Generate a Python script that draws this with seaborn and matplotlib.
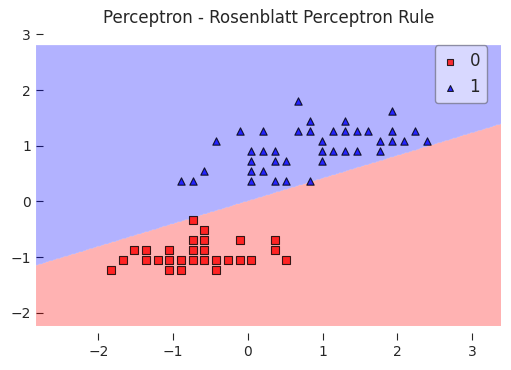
import numpy as np
import pandas as pd
import seaborn as sns
import matplotlib.pyplot as plt
from matplotlib.colors import ListedColormap

# standardized features, class 0 (squares)
x0 = [-0.736, -0.589,
      -0.736, -0.589, -0.107, 0.361,
      -1.526, -1.365, -1.058, -0.736, -0.589, 0.361,
      -1.673, -1.365, -1.205, -1.058, -0.897, -0.736, -0.589, -0.428, -0.268, -0.107, 0.040, 0.508,
      -1.834, -1.058, -0.897, -0.428]
y0 = [-0.337, -0.517,
      -0.696, -0.696, -0.696, -0.696,
      -0.875, -0.875, -0.875, -0.875, -0.875, -0.875,
      -1.055, -1.055, -1.055, -1.055, -1.055, -1.055, -1.055, -1.055, -1.055, -1.055, -1.055, -1.055,
      -1.234, -1.234, -1.234, -1.234]

# class 1 (triangles)
x1 = [0.669, 1.928, 0.830, 1.299,
      -0.107, 0.201, 0.669, 0.830, 1.138, 1.299, 1.459, 1.606, 1.928, 2.236,
      -0.428, 0.991, 1.767, 1.928, 2.088, 2.396,
      0.040, 0.201, 0.361, 0.991, 1.138, 1.299, 1.459, 1.767,
      0.040, 0.361, 0.509, 0.991,
      -0.589, 0.040, 0.201,
      -0.897, -0.736, 0.040, 0.361, 0.509, 0.830]
y1 = [1.808, 1.629, 1.449, 1.449,
      1.270, 1.270, 1.270, 1.270, 1.270, 1.270, 1.270, 1.270, 1.270, 1.270,
      1.091, 1.091, 1.091, 1.091, 1.091, 1.091,
      0.911, 0.911, 0.911, 0.911, 0.911, 0.911, 0.911, 0.911,
      0.732, 0.732, 0.732, 0.732,
      0.552, 0.552, 0.552,
      0.373, 0.373, 0.373, 0.373, 0.373, 0.373]

# learned perceptron weights: bias, w1, w2
weights = [-0.009, -0.408, 1.0]

classes = [0, 1]
colors = ['red', 'blue']
markers = ['s', '^']

df = pd.DataFrame({
    'x1': x0 + x1,
    'x2': y0 + y1,
    'label': [0] * len(x0) + [1] * len(x1),
})

sns.set_style('white', {'xtick.direction': 'in', 'ytick.direction': 'in',
                        'xtick.bottom': True, 'ytick.left': True})

fig = plt.figure(figsize=(5.11, 3.70), dpi=100)
ax = fig.add_axes([0.0705, 0.081, 0.910, 0.835])

# decision regions
res = 0.02
x_min, x_max = df['x1'].min() - 1, df['x1'].max() + 1
y_min, y_max = df['x2'].min() - 1, df['x2'].max() + 1
xx1, xx2 = np.meshgrid(np.arange(x_min, x_max, res), np.arange(y_min, y_max, res))
z = weights[0] + weights[1] * xx1 + weights[2] * xx2
Z = np.where(z >= 0.0, 1, 0)
ax.contourf(xx1, xx2, Z, alpha=0.3, cmap=ListedColormap(colors), antialiased=True)
ax.set_xlim(xx1.min(), xx1.max())
span = xx2.max() - xx2.min()
ax.set_ylim(xx2.min() - 0.05 * span, xx2.max() + 0.05 * span)

for idx, cl in enumerate(classes):
    sub = df[df['label'] == cl]
    sns.scatterplot(data=sub, x='x1', y='x2', color=colors[idx], marker=markers[idx],
                    edgecolor='black', linewidth=0.8, alpha=0.8, s=28,
                    label=str(cl), ax=ax)

sns.despine(ax=ax, left=True, bottom=True)
ax.tick_params(length=5, width=0.8, colors='0.15', labelsize=10)
ax.set_xlabel('')
ax.set_ylabel('')
ax.set_title('Perceptron - Rosenblatt Perceptron Rule', fontsize=12)
leg = ax.legend(loc='upper right', fontsize=12, frameon=True, framealpha=0.5,
                edgecolor='0.3', fancybox=True, markerscale=0.8,
                handlelength=1.0, handletextpad=0.7, borderaxespad=0.85)

plt.savefig('out.png', dpi=100)
